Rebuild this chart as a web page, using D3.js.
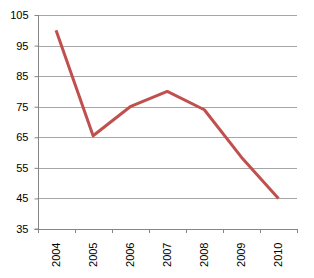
<!DOCTYPE html>
<html>
<head>
<meta charset="utf-8">
<script src="https://cdn.jsdelivr.net/npm/d3@7"></script>
<style>
  body { margin: 0; background: #fff; }
  svg text { font-family: "Liberation Sans", Arial, sans-serif; font-size: 11px; fill: #000; }
</style>
</head>
<body>
<div id="chart"></div>
<script>
const years = ["2004", "2005", "2006", "2007", "2008", "2009", "2010"];
const values = [100, 65.5, 75, 80, 74, 58.5, 45];
const yTicks = [35, 45, 55, 65, 75, 85, 95, 105];

const width = 314;
const height = 278;
const margin = { top: 15, right: 17, bottom: 49, left: 37.5 };

const svg = d3
  .select("#chart")
  .append("svg")
  .attr("width", width)
  .attr("height", height);

const x = d3
  .scaleBand()
  .domain(years)
  .range([margin.left, width - margin.right]);

const y = d3
  .scaleLinear()
  .domain([35, 105])
  .range([height - margin.bottom, margin.top]);

// gridlines
svg
  .append("g")
  .selectAll("line")
  .data(yTicks.slice(1))
  .join("line")
  .attr("x1", margin.left)
  .attr("x2", width - margin.right)
  .attr("y1", (d) => Math.round(y(d)) + 0.5)
  .attr("y2", (d) => Math.round(y(d)) + 0.5)
  .attr("stroke", "#a6a6a6");

// y axis
const yAxis = svg
  .append("g")
  .attr("transform", `translate(${Math.round(margin.left) + 0.5},0)`)
  .call(d3.axisLeft(y).tickValues(yTicks).tickSize(4).tickPadding(6));
yAxis.selectAll("path, line").attr("stroke", "#868686");
yAxis.select(".domain").attr("d", `M-4,${y(35)}H0V${y(105)}`);
yAxis.selectAll("text").style("font-family", null).style("font-size", null).attr("font-size", null).attr("font-family", null);

// x axis
const xAxis = svg
  .append("g")
  .attr("transform", `translate(0,${Math.round(y(35)) + 0.5})`)
  .call(d3.axisBottom(x).tickSize(0).tickPadding(0));
xAxis.select(".domain").attr("stroke", "#868686").attr("d", `M${margin.left},0H${width - margin.right}`);
xAxis.attr("font-size", null).attr("font-family", null);
xAxis
  .selectAll("text")
  .attr("transform", "rotate(-90)")
  .attr("text-anchor", "end")
  .attr("x", -13)
  .attr("y", 0)
  .attr("dy", "0.35em");
svg
  .append("g")
  .selectAll("line")
  .data(years.concat(["end"]))
  .join("line")
  .attr("x1", (d, i) => Math.round(margin.left + i * x.bandwidth()) + 0.5)
  .attr("x2", (d, i) => Math.round(margin.left + i * x.bandwidth()) + 0.5)
  .attr("y1", y(35))
  .attr("y2", y(35) + 4)
  .attr("stroke", "#868686");
yAxis.attr("font-size", null).attr("font-family", null);

// line
const line = d3
  .line()
  .x((d, i) => x(years[i]) + x.bandwidth() / 2)
  .y((d) => y(d));

svg
  .append("path")
  .datum(values)
  .attr("d", line)
  .attr("fill", "none")
  .attr("stroke", "#c0504d")
  .attr("stroke-width", 3)
  .attr("stroke-linejoin", "round");
</script>
</body>
</html>
